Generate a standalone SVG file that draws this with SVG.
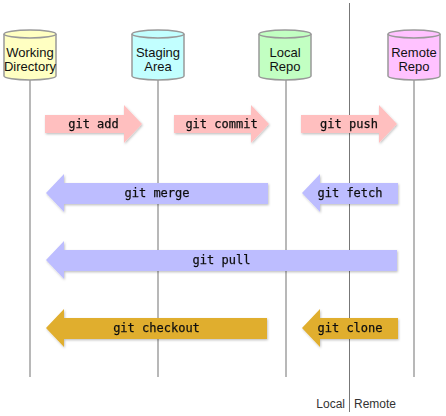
<svg xmlns="http://www.w3.org/2000/svg" width="446" height="416" viewBox="0 0 446 416">
<style>
.life{stroke:#a0a0a0;stroke-width:1.5;fill:none}
.cyl{stroke:#999;stroke-width:1.5}
.nl{font-family:"Liberation Sans",Arial,sans-serif;font-size:13px;fill:#111;text-anchor:middle}
.al{font-family:"DejaVu Sans Mono","Liberation Mono",monospace;font-size:12px;fill:#111;stroke:#111;stroke-width:0.25;text-anchor:middle}
.pink{fill:#ffbfbf}
.blue{fill:#bdbdff}
.gold{fill:#e0ae2e}
.bl{font-family:"Liberation Sans",Arial,sans-serif;font-size:12px;fill:#333}
</style>
<defs>
<filter id="sh" x="-10%" y="-20%" width="120%" height="150%">
<feDropShadow dx="0.8" dy="1.2" stdDeviation="0.8" flood-color="#000" flood-opacity="0.25"/>
</filter>
</defs>
<rect width="446" height="416" fill="#fff"/>
<g id="lifelines">
<line class="life" x1="30" y1="80" x2="30" y2="377"/>
<line class="life" x1="158" y1="80" x2="158" y2="377"/>
<line class="life" x1="286" y1="80" x2="286" y2="377"/>
<line class="life" x1="414" y1="80" x2="414" y2="377"/>
<line x1="349.5" y1="3" x2="349.5" y2="412" stroke="#777" stroke-width="1"/>
</g>
<g id="working">
<path class="cyl" fill="#ffffc2" d="M4,34 A26,4 0 0 1 56,34 V76 A26,4 0 0 1 4,76 Z"/>
<path class="cyl" fill="none" d="M4,34 A26,4 0 0 0 56,34"/>
<text class="nl" x="30" y="57">Working</text>
<text class="nl" x="30" y="71">Directory</text>
</g>
<g id="staging">
<path class="cyl" fill="#c2ffff" d="M132,34 A26,4 0 0 1 184,34 V76 A26,4 0 0 1 132,76 Z"/>
<path class="cyl" fill="none" d="M132,34 A26,4 0 0 0 184,34"/>
<text class="nl" x="158" y="57">Staging</text>
<text class="nl" x="158" y="71">Area</text>
</g>
<g id="local">
<path class="cyl" fill="#c2ffc2" d="M259,34 A26,4 0 0 1 311,34 V76 A26,4 0 0 1 259,76 Z"/>
<path class="cyl" fill="none" d="M259,34 A26,4 0 0 0 311,34"/>
<text class="nl" x="285" y="57">Local</text>
<text class="nl" x="285" y="71">Repo</text>
</g>
<g id="remote">
<path class="cyl" fill="#ffc2ff" d="M388,34 A26,4 0 0 1 440,34 V76 A26,4 0 0 1 388,76 Z"/>
<path class="cyl" fill="none" d="M388,34 A26,4 0 0 0 440,34"/>
<text class="nl" x="414" y="57">Remote</text>
<text class="nl" x="414" y="71">Repo</text>
</g>
<g id="connectors" filter="url(#sh)">
<g id="git-add">
<path class="pink" d="M45,115 H124 V105 L142,124 L124,143 V133 H45 Z"/>
<text class="al" x="93.5" y="128">git add</text>
</g>
<g id="git-commit">
<path class="pink" d="M174,115 H251 V105 L269,124 L251,143 V133 H174 Z"/>
<text class="al" x="221.5" y="128">git commit</text>
</g>
<g id="git-push">
<path class="pink" d="M301,115 H379 V105 L397,124 L379,143 V133 H301 Z"/>
<text class="al" x="349" y="128">git push</text>
</g>
<g id="git-merge">
<path class="blue" d="M268,183 H64 V174 L46,193 L64,212 V204 H268 Z"/>
<text class="al" x="157" y="197">git merge</text>
</g>
<g id="git-fetch">
<path class="blue" d="M398,183 H320 V174 L302,193 L320,212 V204 H398 Z"/>
<text class="al" x="350" y="197">git fetch</text>
</g>
<g id="git-pull">
<path class="blue" d="M397,250 H64 V241 L46,260 L64,279 V271 H397 Z"/>
<text class="al" x="221.5" y="264">git pull</text>
</g>
<g id="git-checkout">
<path class="gold" d="M267,318 H64 V309 L46,328 L64,347 V339 H267 Z"/>
<text class="al" x="156.5" y="332">git checkout</text>
</g>
<g id="git-clone">
<path class="gold" d="M398,318 H320 V309 L302,328 L320,347 V339 H398 Z"/>
<text class="al" x="350" y="332">git clone</text>
</g>
</g>
<text class="bl" x="345" y="408" text-anchor="end">Local</text>
<text class="bl" x="354" y="408">Remote</text>
</svg>
